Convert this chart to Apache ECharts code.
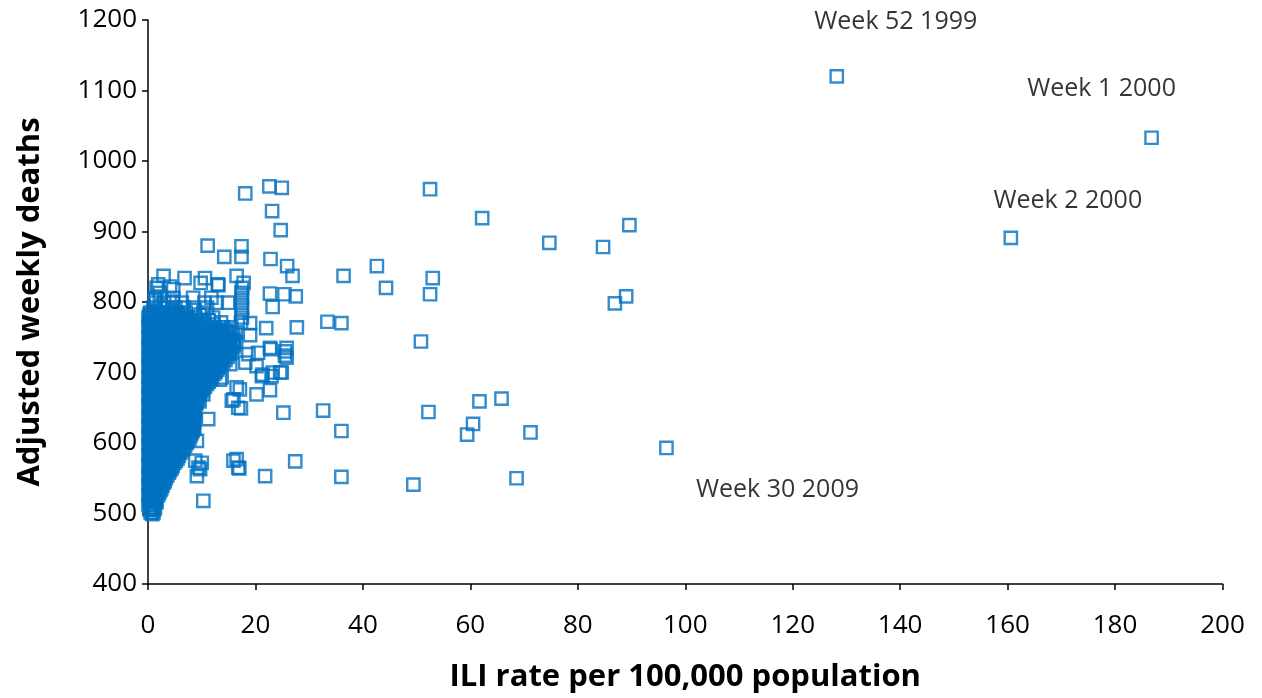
<!DOCTYPE html>
<html>
<head>
<meta charset="utf-8">
<style>
  html, body { margin: 0; padding: 0; background: #ffffff; }
  #chart { width: 1262px; height: 698px; }
</style>
<script src="https://cdn.jsdelivr.net/npm/echarts@6/dist/echarts.min.js"></script>
</head>
<body>
<div id="chart"></div>
<script>
// Axis ticks
const xTickValues = [0, 20, 40, 60, 80, 100, 120, 140, 160, 180, 200];
const yTickValues = [400, 500, 600, 700, 800, 900, 1000, 1100, 1200];

// Named epidemic weeks
const labelledWeeks  = ['Week 52 1999', 'Week 1 2000', 'Week 2 2000', 'Week 30 2009'];
const labelledIli    = [128.2, 186.8, 160.6, 96.5];
const labelledDeaths = [1120, 1033, 891, 593];

// High-ILI weeks away from the main cloud: [ILI rate, deaths]
const outlierWeeks = [
  [52.5, 960], [62.2, 919], [74.7, 884], [84.7, 878], [89.6, 909],
  [86.9, 798], [89.0, 808], [42.6, 851], [44.3, 820], [53.0, 834],
  [52.5, 811], [36.4, 837], [33.4, 772], [36.0, 770], [50.8, 744],
  [32.6, 646], [36.0, 617], [36.0, 552], [49.4, 541], [52.2, 644],
  [59.4, 612], [60.5, 627], [61.7, 659], [65.8, 663], [71.2, 615],
  [68.6, 550]
];

// Moderate-ILI weeks around the edge of the cloud: [ILI rate, deaths]
const fringeWeeks = [
  [18.1, 954], [22.6, 964], [24.9, 962], [23.1, 929], [24.7, 902],
  [11.1, 880], [14.2, 864], [17.4, 879], [17.4, 864], [22.8, 861],
  [25.9, 851], [26.9, 837], [2.9, 837], [6.8, 834], [10.6, 834],
  [9.8, 827], [13.0, 825], [16.5, 837], [17.8, 827], [17.5, 820],
  [17.4, 813], [17.5, 806], [17.4, 799], [17.5, 792], [17.4, 785],
  [17.5, 778], [17.3, 771], [22.7, 812], [25.4, 811], [27.5, 808],
  [23.2, 793], [22.0, 763], [27.7, 764], [19.0, 770], [19.0, 753],
  [22.8, 733], [25.5, 730], [20.5, 728], [25.8, 721], [24.9, 700],
  [21.3, 697], [23.2, 700], [22.7, 675], [20.2, 669], [17.1, 676],
  [17.3, 649], [25.2, 643], [27.4, 574], [21.8, 553], [16.5, 577],
  [17.0, 564], [10.3, 518], [9.1, 553], [9.7, 563], [8.8, 575],
  [9.1, 603], [15.6, 660], [16.5, 679], [11.2, 634], [10.3, 669],
  [13.4, 690], [15.3, 712], [15.9, 662], [16.8, 650], [15.9, 575],
  [16.8, 565], [10.0, 572], [9.4, 565], [22.7, 735], [25.5, 724],
  [25.8, 735], [24.6, 700], [23.0, 695], [21.2, 695], [20.2, 709],
  [18.1, 714], [18.7, 726], [13.7, 693], [1.9, 825], [2.2, 813],
  [4.7, 818], [8.4, 806], [11.8, 806], [14.9, 799], [1.3, 804],
  [0.4, 780], [13.1, 824], [1.6, 820], [4.1, 822], [0.8, 499]
];

// Low-ILI weeks forming the dense cloud, grouped by deaths: [deaths, [ILI rates]]
const coreWeeks = [
  [501, [0.5, 1.0]],
  [505, [0.3, 1.1]],
  [508, [0.5, 1.3]],
  [512, [0.1, 0.7]],
  [516, [0.4, 1.1, 1.6]],
  [519, [0.2, 0.9, 1.4]],
  [522, [0.3, 0.9, 1.5]],
  [526, [0.1, 0.6, 1.2, 1.9]],
  [530, [0.4, 1.0, 1.7, 2.1]],
  [533, [0.3, 0.9, 1.6, 2.3]],
  [536, [0.5, 1.2, 1.9, 2.5]],
  [540, [0.1, 0.7, 1.3, 2.0, 2.7]],
  [544, [0.4, 1.1, 1.8, 2.6, 3.0]],
  [547, [0.2, 0.9, 1.6, 2.4, 3.1]],
  [550, [0.4, 1.1, 1.8, 2.5, 3.3]],
  [554, [0.1, 0.6, 1.3, 2.0, 2.8, 3.6]],
  [558, [0.3, 0.9, 1.6, 2.3, 3.1, 3.9]],
  [561, [0.3, 1.0, 1.7, 2.5, 3.3, 4.1]],
  [564, [0.5, 1.2, 2.0, 2.8, 3.6, 4.4]],
  [568, [0.1, 0.7, 1.4, 2.2, 3.0, 3.8, 4.6]],
  [572, [0.4, 1.1, 1.8, 2.6, 3.4, 4.2, 4.9]],
  [575, [0.2, 0.9, 1.7, 2.6, 3.4, 4.3, 5.2]],
  [578, [0.5, 1.3, 2.1, 3.0, 3.9, 4.8, 5.5]],
  [582, [0.1, 0.6, 1.3, 2.1, 2.9, 3.8, 4.7, 5.7]],
  [586, [0.4, 1.0, 1.7, 2.5, 3.3, 4.2, 5.1, 6.0]],
  [589, [0.3, 1.0, 1.8, 2.6, 3.5, 4.4, 5.3, 6.3]],
  [592, [0.5, 1.4, 2.2, 3.0, 3.9, 4.8, 5.8, 6.6]],
  [596, [0.1, 0.7, 1.5, 2.3, 3.2, 4.1, 5.0, 6.0, 6.9]],
  [600, [0.4, 1.1, 1.9, 2.7, 3.6, 4.6, 5.5, 6.5, 7.2]],
  [603, [0.2, 0.9, 1.7, 2.6, 3.5, 4.5, 5.5, 6.5, 7.4]],
  [606, [0.5, 1.3, 2.1, 3.0, 4.0, 5.0, 6.0, 7.0, 7.7]],
  [610, [0.1, 0.6, 1.4, 2.2, 3.1, 4.0, 5.0, 6.0, 7.0, 7.9]],
  [614, [0.4, 1.0, 1.8, 2.6, 3.5, 4.5, 5.5, 6.5, 7.5, 8.1]],
  [617, [0.3, 1.0, 1.9, 2.8, 3.7, 4.7, 5.7, 6.7, 7.6, 8.3]],
  [620, [0.5, 1.4, 2.3, 3.2, 4.2, 5.2, 6.2, 7.2, 8.0, 8.6]],
  [624, [0.1, 0.7, 1.5, 2.4, 3.3, 4.3, 5.3, 6.3, 7.3, 8.5]],
  [628, [0.4, 1.1, 1.9, 2.8, 3.8, 4.8, 5.8, 6.8, 7.8, 8.4]],
  [631, [0.2, 0.9, 1.8, 2.7, 3.7, 4.7, 5.7, 6.8, 7.8, 8.6]],
  [634, [0.5, 1.3, 2.2, 3.2, 4.2, 5.2, 6.3, 7.3, 8.2]],
  [638, [0.1, 0.6, 1.4, 2.3, 3.2, 4.2, 5.2, 6.2, 7.2, 8.2]],
  [642, [0.4, 1.0, 1.8, 2.7, 3.7, 4.7, 5.7, 6.7, 7.7, 8.6]],
  [645, [0.3, 1.1, 2.0, 2.9, 3.9, 4.9, 5.9, 6.9, 7.9, 8.8]],
  [648, [0.5, 1.5, 2.4, 3.4, 4.4, 5.4, 6.4, 7.4, 8.4]],
  [652, [0.1, 0.7, 1.6, 2.5, 3.5, 4.5, 5.5, 6.5, 7.5, 8.5]],
  [656, [0.4, 1.1, 2.0, 3.0, 4.0, 5.0, 6.0, 7.0, 8.0, 9.0]],
  [659, [0.2, 0.9, 1.8, 2.8, 3.8, 4.8, 5.8, 6.8, 7.8, 8.9, 9.6]],
  [662, [0.5, 1.3, 2.3, 3.3, 4.3, 5.3, 6.3, 7.3, 8.3, 9.3]],
  [666, [0.1, 0.6, 1.4, 2.3, 3.3, 4.3, 5.3, 6.3, 7.3, 8.3, 9.3]],
  [670, [0.4, 1.0, 1.8, 2.8, 3.8, 4.8, 5.8, 6.8, 7.8, 8.8, 9.6]],
  [673, [0.3, 1.1, 2.0, 3.0, 4.0, 5.0, 6.0, 7.0, 8.0, 9.0, 9.9]],
  [676, [0.5, 1.5, 2.5, 3.5, 4.5, 5.5, 6.5, 7.5, 8.5, 9.5, 10.2]],
  [680, [0.1, 0.7, 1.6, 2.6, 3.6, 4.6, 5.6, 6.6, 7.6, 8.7, 9.7, 10.6]],
  [684, [0.4, 1.2, 2.2, 3.2, 4.2, 5.2, 6.2, 7.2, 8.2, 9.3, 10.4, 11.0]],
  [687, [0.2, 0.9, 1.9, 2.9, 3.9, 4.9, 5.9, 7.0, 8.1, 9.2, 10.3, 11.3]],
  [690, [0.5, 1.4, 2.4, 3.4, 4.4, 5.4, 6.4, 7.5, 8.6, 9.7, 10.8, 11.7]],
  [694, [0.1, 0.6, 1.5, 2.5, 3.5, 4.5, 5.5, 6.5, 7.5, 8.6, 9.7, 10.8, 11.9]],
  [698, [0.4, 1.0, 2.0, 3.0, 4.0, 5.0, 6.0, 7.0, 8.0, 9.1, 10.2, 11.3, 12.3]],
  [701, [0.3, 1.1, 2.1, 3.1, 4.1, 5.1, 6.1, 7.2, 8.3, 9.4, 10.5, 11.6, 12.6]],
  [704, [0.5, 1.6, 2.6, 3.6, 4.6, 5.6, 6.6, 7.7, 8.8, 9.9, 11.0, 12.0, 12.9]],
  [708, [0.1, 0.7, 1.7, 2.7, 3.7, 4.7, 5.7, 6.8, 7.9, 9.0, 10.1, 11.2, 12.3, 13.2]],
  [712, [0.4, 1.2, 2.2, 3.2, 4.2, 5.2, 6.3, 7.4, 8.5, 9.6, 10.7, 11.8, 12.9, 13.6]],
  [715, [0.2, 0.9, 1.9, 2.9, 4.0, 5.1, 6.2, 7.3, 8.4, 9.5, 10.6, 11.8, 13.0, 14.0]],
  [718, [0.5, 1.4, 2.4, 3.5, 4.6, 5.7, 6.8, 7.9, 9.0, 10.1, 11.3, 12.5, 13.6, 14.4]],
  [722, [0.1, 0.6, 1.5, 2.5, 3.5, 4.6, 5.7, 6.8, 7.9, 9.0, 10.2, 11.4, 12.6, 13.8, 14.8]],
  [726, [0.4, 1.0, 2.0, 3.0, 4.1, 5.2, 6.3, 7.4, 8.5, 9.6, 10.8, 12.0, 13.2, 14.3, 15.2]],
  [729, [0.3, 1.1, 2.1, 3.1, 4.2, 5.3, 6.4, 7.5, 8.7, 9.9, 11.1, 12.3, 13.5, 14.7, 15.6]],
  [732, [0.5, 1.6, 2.6, 3.7, 4.8, 5.9, 7.0, 8.1, 9.3, 10.5, 11.7, 12.9, 14.1, 15.2]],
  [736, [0.1, 0.7, 1.7, 2.8, 3.9, 5.0, 6.1, 7.3, 8.5, 9.7, 10.9, 12.1, 13.4, 14.6, 15.9]],
  [740, [0.4, 1.2, 2.3, 3.4, 4.5, 5.6, 6.7, 7.9, 9.1, 10.3, 11.5, 12.8, 14.0, 15.2, 16.0]],
  [743, [0.2, 0.9, 2.0, 3.1, 4.3, 5.5, 6.7, 7.9, 9.1, 10.4, 11.7, 13.0, 14.3, 15.5, 16.4]],
  [746, [0.5, 1.4, 2.5, 3.7, 4.9, 6.1, 7.3, 8.5, 9.8, 11.1, 12.4, 13.7, 15.0, 15.9]],
  [750, [0.1, 0.6, 1.6, 2.7, 3.8, 5.0, 6.2, 7.4, 8.7, 10.0, 11.3, 12.6, 13.9, 15.2]],
  [754, [0.4, 1.0, 2.1, 3.2, 4.4, 5.6, 6.8, 8.0, 9.3, 10.6, 12.0, 13.3, 14.6, 15.8]],
  [757, [0.3, 1.2, 2.3, 3.5, 4.7, 5.9, 7.1, 8.4, 9.7, 11.0, 12.4, 13.8, 15.1, 16.3]],
  [760, [0.5, 1.6, 2.7, 3.9, 5.1, 6.4, 7.7, 9.0, 10.3, 11.7, 13.1, 14.6]],
  [764, [0.1, 0.8, 1.9, 3.1, 4.3, 5.6, 6.9, 8.2, 9.6, 11.0, 12.5, 14.0, 15.5]],
  [768, [0.4, 1.3, 2.5, 3.7, 5.0, 6.3, 7.7, 9.1, 10.6, 12.2]],
  [771, [0.2, 1.0, 2.2, 3.5, 4.8, 6.2, 7.6, 9.0, 10.5, 13.6]],
  [774, [0.5, 1.5, 2.7, 4.0, 5.4, 6.8, 8.3, 11.3]],
  [778, [0.1, 0.7, 1.8, 3.0, 4.4, 5.8, 7.3, 8.8, 12.1]],
  [782, [0.3, 1.1, 2.2, 3.5, 4.9, 6.4, 9.6]],
  [785, [0.4, 1.4, 2.6, 4.0, 5.5, 7.0, 10.3]],
  [792, [1.0, 2.2, 3.6, 5.1, 6.7, 8.4, 11.0]],
  [799, [1.5, 3.0, 4.6, 6.3, 10.5, 12.8]],
  [806, [1.3, 4.7]]
];

// Flatten the cloud rows into [ILI rate, deaths] pairs
const corePoints = [];
coreWeeks.forEach(function (row) {
  row[1].forEach(function (ili) { corePoints.push([ili, row[0]]); });
});
const allWeeks = corePoints.concat(fringeWeeks, outlierWeeks);

// Placement of the week captions relative to their marker (px)
const captionOffsets = [[59, -55], [-50, -49], [57, -37], [111, 42]];

const markerColor = '#0070C0';
const markerStyle = { color: 'rgba(255,255,255,0)', borderColor: markerColor, borderWidth: 2.4 };
const fontFamily = '"Open Sans", "Liberation Sans", sans-serif';

const chart = echarts.init(document.getElementById('chart'), null, { renderer: 'canvas' });
chart.setOption({
  animation: false,
  backgroundColor: '#ffffff',
  grid: { left: 148, right: 39.5, top: 20, bottom: 113, containLabel: false },
  xAxis: {
    type: 'value',
    min: xTickValues[0],
    max: xTickValues[xTickValues.length - 1],
    interval: xTickValues[1] - xTickValues[0],
    name: 'ILI rate per 100,000 population',
    nameLocation: 'middle',
    nameGap: 78,
    nameTextStyle: { fontFamily: fontFamily, fontSize: 31, fontWeight: 'bold', color: '#000' },
    axisLine: { show: true, onZero: false, lineStyle: { color: '#000', width: 1.5 } },
    axisTick: { show: true, inside: false, length: 6, lineStyle: { color: '#000', width: 1.5 } },
    axisLabel: { fontFamily: fontFamily, fontSize: 26, color: '#000', margin: 29,
                 formatter: function (v) { return String(v); } },
    splitLine: { show: false }
  },
  yAxis: {
    type: 'value',
    min: yTickValues[0],
    max: yTickValues[yTickValues.length - 1],
    interval: yTickValues[1] - yTickValues[0],
    name: 'Adjusted weekly deaths',
    nameLocation: 'middle',
    nameGap: 102,
    nameTextStyle: { fontFamily: fontFamily, fontSize: 31, fontWeight: 'bold', color: '#000' },
    axisLine: { show: true, onZero: false, lineStyle: { color: '#000', width: 1.5 } },
    axisTick: { show: true, inside: false, length: 6, lineStyle: { color: '#000', width: 1.5 } },
    axisLabel: { fontFamily: fontFamily, fontSize: 26, color: '#000', margin: 11,
                 formatter: function (v) { return String(v); } },
    splitLine: { show: false }
  },
  series: [
    {
      type: 'scatter',
      symbol: 'rect',
      symbolSize: 12.3,
      itemStyle: markerStyle,
      emphasis: { disabled: true },
      large: false,
      progressive: 0,
      data: allWeeks
    },
    {
      type: 'scatter',
      symbol: 'rect',
      symbolSize: 12.3,
      itemStyle: markerStyle,
      emphasis: { disabled: true },
      data: labelledWeeks.map(function (name, i) {
        return {
          name: name,
          value: [labelledIli[i], labelledDeaths[i]],
          label: {
            show: true,
            position: 'inside',
            offset: captionOffsets[i],
            formatter: name,
            fontFamily: fontFamily,
            fontSize: 25,
            color: '#000',
            align: 'center',
            verticalAlign: 'middle'
          }
        };
      })
    }
  ]
});
</script>
</body>
</html>
